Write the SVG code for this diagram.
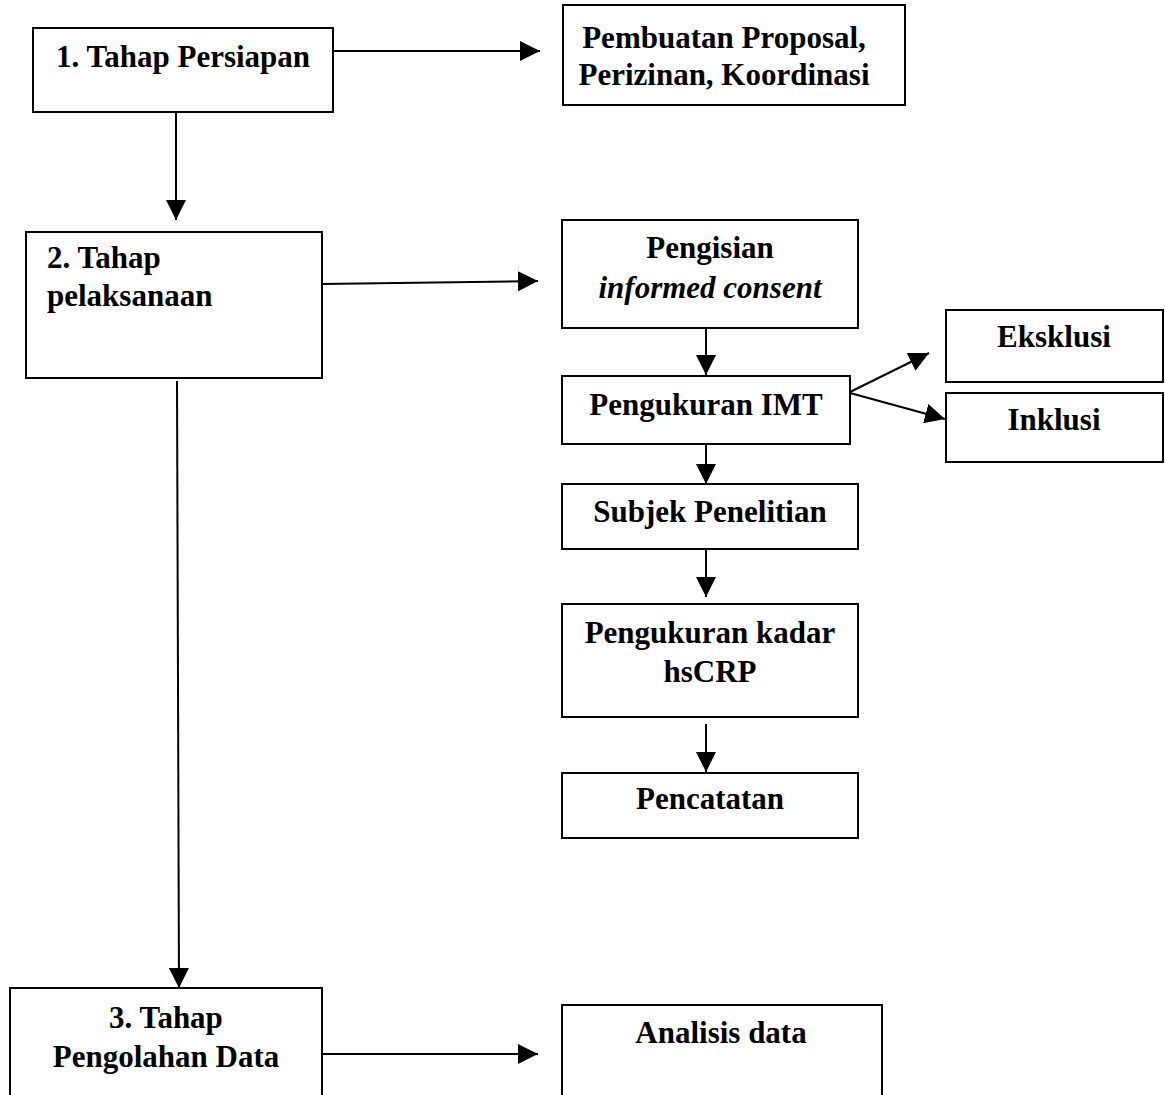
<svg xmlns="http://www.w3.org/2000/svg" width="1165" height="1095" viewBox="0 0 1165 1095">
<style>
.box{fill:#fff;stroke:#000;stroke-width:2}
.t{font-family:"Liberation Serif","Times New Roman",serif;font-weight:bold;font-size:31px;fill:#000}
.c{text-anchor:middle}
.i{font-style:italic}
.ln{stroke:#000;stroke-width:2;fill:none;marker-end:url(#ah)}
</style>
<defs>
<marker id="ah" markerUnits="userSpaceOnUse" markerWidth="20" markerHeight="20" refX="20" refY="10" orient="auto" viewBox="0 0 20 20">
<path d="M0,0 L20,10 L0,20 z" fill="#000"/>
</marker>
</defs>
<rect width="1165" height="1095" fill="#fff"/>
<g id="connectors">
<line class="ln" x1="333" y1="51" x2="540" y2="51"/>
<line class="ln" x1="176" y1="112" x2="176" y2="220"/>
<line class="ln" x1="322" y1="284" x2="538" y2="281"/>
<line class="ln" x1="706" y1="328" x2="706" y2="375"/>
<line class="ln" x1="850" y1="392" x2="929" y2="353"/>
<line class="ln" x1="850" y1="393" x2="945" y2="419"/>
<line class="ln" x1="706" y1="441" x2="706" y2="484"/>
<line class="ln" x1="706" y1="549" x2="706" y2="597"/>
<line class="ln" x1="706" y1="724" x2="706" y2="772"/>
<line class="ln" x1="177" y1="381" x2="179" y2="988"/>
<line class="ln" x1="322" y1="1054" x2="538" y2="1054"/>
</g>
<g id="n1">
<rect class="box" x="33" y="28" width="300" height="84"/>
<text class="t c" x="183" y="67">1. Tahap Persiapan</text>
</g>
<g id="n-proposal">
<rect class="box" x="563" y="5" width="342" height="100"/>
<text class="t c" x="724" y="48">Pembuatan Proposal,</text>
<text class="t c" x="724" y="85">Perizinan, Koordinasi</text>
</g>
<g id="n2">
<rect class="box" x="26" y="232" width="296" height="146"/>
<text class="t" x="47" y="268">2. Tahap</text>
<text class="t" x="47" y="306">pelaksanaan</text>
</g>
<g id="n-consent">
<rect class="box" x="562" y="220" width="296" height="108"/>
<text class="t c" x="710" y="258">Pengisian</text>
<text class="t c i" x="710" y="298">informed consent</text>
</g>
<g id="n-imt">
<rect class="box" x="562" y="376" width="288" height="68"/>
<text class="t c" x="706" y="415">Pengukuran IMT</text>
</g>
<g id="n-eksklusi">
<rect class="box" x="946" y="310" width="217" height="72"/>
<text class="t c" x="1054" y="347">Eksklusi</text>
</g>
<g id="n-inklusi">
<rect class="box" x="946" y="393" width="217" height="69"/>
<text class="t c" x="1054" y="430">Inklusi</text>
</g>
<g id="n-subjek">
<rect class="box" x="562" y="484" width="296" height="65"/>
<text class="t c" x="710" y="522">Subjek Penelitian</text>
</g>
<g id="n-hscrp">
<rect class="box" x="562" y="604" width="296" height="113"/>
<text class="t c" x="710" y="643">Pengukuran kadar</text>
<text class="t c" x="710" y="682">hsCRP</text>
</g>
<g id="n-pencatatan">
<rect class="box" x="562" y="773" width="296" height="65"/>
<text class="t c" x="710" y="809">Pencatatan</text>
</g>
<g id="n3">
<rect class="box" x="10" y="988" width="312" height="120"/>
<text class="t c" x="166" y="1028">3. Tahap</text>
<text class="t c" x="166" y="1067">Pengolahan Data</text>
</g>
<g id="n-analisis">
<rect class="box" x="562" y="1005" width="320" height="100"/>
<text class="t c" x="721" y="1043">Analisis data</text>
</g>
</svg>
